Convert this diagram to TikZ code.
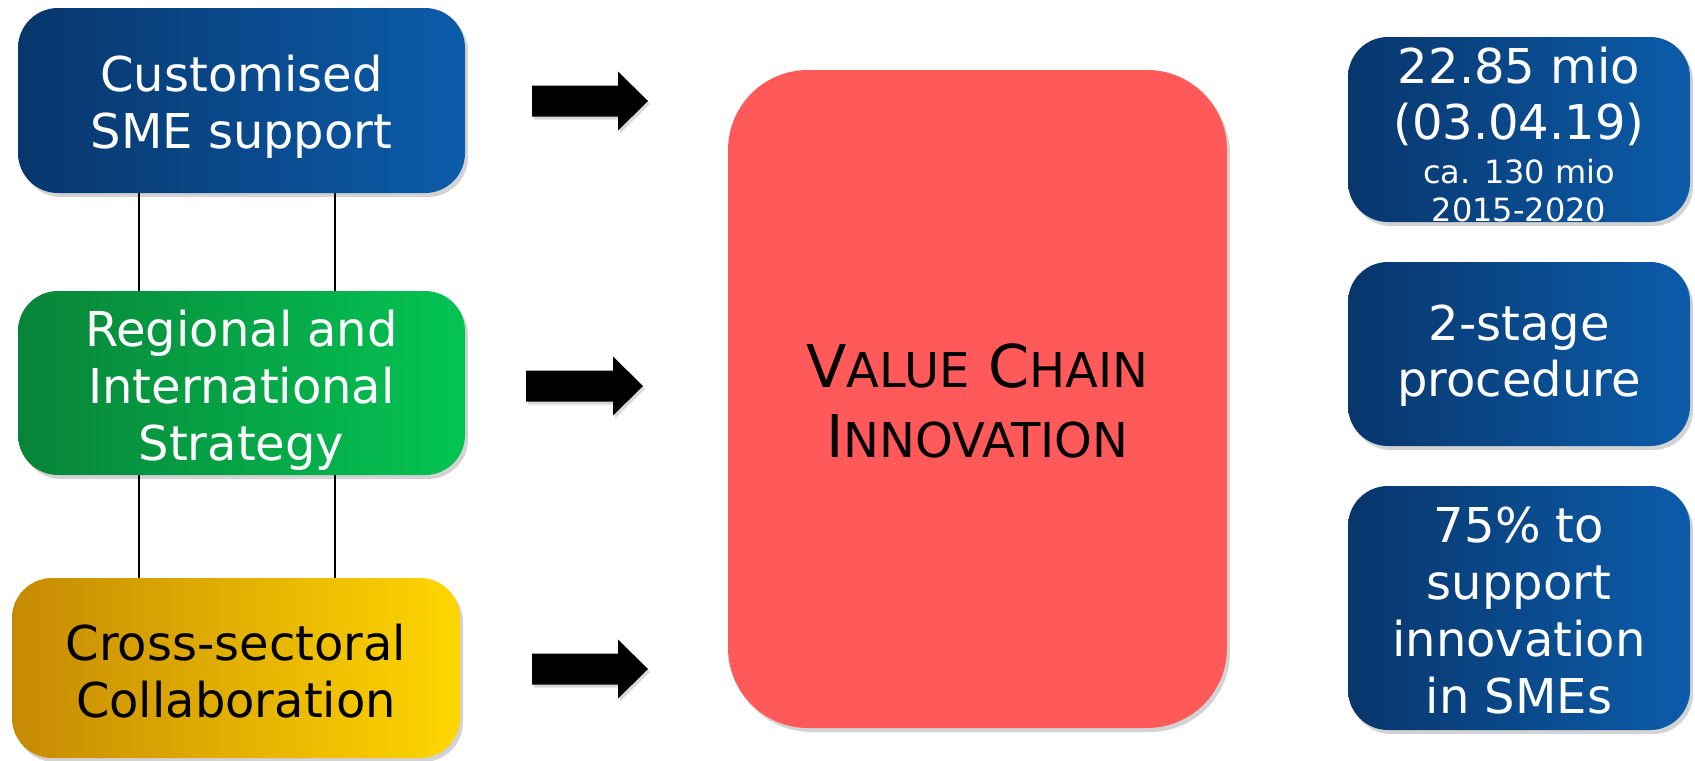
\documentclass[tikz,border=0pt]{standalone}
\usepackage{fontspec}
\setmainfont{DejaVu Sans}
\usetikzlibrary{shadows}
\definecolor{navyL}{RGB}{8,54,108}
\definecolor{navyR}{RGB}{12,92,170}
\definecolor{grnL}{RGB}{8,132,56}
\definecolor{grnR}{RGB}{4,196,84}
\definecolor{ylwL}{RGB}{198,138,4}
\definecolor{ylwR}{RGB}{255,214,0}
\definecolor{vcred}{RGB}{255,89,89}
\begin{document}
\begin{tikzpicture}[x=0.5pt,y=-0.5pt,
  box/.style={rounded corners=20pt,inner sep=0pt,
    drop shadow={opacity=0.35,shadow xshift=1.5pt,shadow yshift=-2pt}},
  bluebox/.style={box,left color=navyL,right color=navyR},
  sidebox/.style={bluebox,minimum width=171pt},
  tx/.style={inner sep=0pt,align=center,text=white,font=\fontsize{24}{28.5}\selectfont}]
\useasboundingbox (0,0) rectangle (1695,760);

% left column
\node[bluebox,minimum width=223.5pt,minimum height=92.5pt] (sme) at (241.5,100.5) {};
\node[tx] (sme-t) at ([yshift=-3pt]sme.center) {Customised\\SME support};
\node[box,left color=grnL,right color=grnR,minimum width=223.5pt,minimum height=92pt] (strat) at (241.5,383) {};
\node[tx] (strat-t) at ([yshift=-3.5pt]strat.center) {Regional and\\International\\Strategy};
\node[box,left color=ylwL,right color=ylwR,minimum width=224pt,minimum height=90pt] (collab) at (236,668) {};
\node[tx,text=black] (collab-t) at ([yshift=-1.5pt]collab.center) {Cross-sectoral\\Collaboration};
\foreach \dx in {-51.25pt,46.75pt}{
  \draw[line width=0.7pt] ([xshift=\dx]sme.south) -- ([xshift=\dx]sme.south |- strat.north);
  \draw[line width=0.7pt] ([xshift=\dx]strat.south) -- ([xshift=\dx]strat.south |- collab.north);
}

% block arrows
\foreach \l/\r/\c in {532/648/101,526/643/386,532/648/669}
  \fill[black,drop shadow={opacity=0.3,shadow xshift=1pt,shadow yshift=-1.5pt}]
    (\l,{\c-15.5}) -- ({\r-30},{\c-15.5}) -- ({\r-30},{\c-29.5}) -- (\r,\c)
    -- ({\r-30},{\c+29.5}) -- ({\r-30},{\c+15.5}) -- (\l,{\c+15.5}) -- cycle;

% centre
\node[box,rounded corners=40pt,fill=vcred,minimum width=249.5pt,minimum height=329pt] (vci) at (977.5,399) {};
\node[tx,text=black,font=\fontsize{29.5}{35}\selectfont] (vci-t) at ([yshift=-1pt]vci.center)
  {V{\fontsize{24}{35}\selectfont ALUE} C{\fontsize{24}{35}\selectfont HAIN}\\I{\fontsize{24}{35}\selectfont NNOVATION}};

% right column
\node[sidebox,minimum height=92.5pt] (fund) at (1519,129.5) {};
\node[tx,font=\fontsize{24}{28}\selectfont] (fund-t) at ([yshift=-2.5pt]fund.center)
  {22.85 mio\\(03.04.19)\\[-6pt]{\fontsize{16}{28}\selectfont ca. 130 mio}\\[-9pt]{\fontsize{16}{28}\selectfont 2015-2020}};
\node[sidebox,minimum height=92pt] (proc) at (1519,354) {};
\node[tx,font=\fontsize{24}{28}\selectfont] (proc-t) at ([yshift=-1pt]proc.center) {2-stage\\procedure};
\node[sidebox,minimum height=122pt] (share) at (1519,608) {};
\node[tx] (share-t) at ([yshift=-1.5pt]share.center) {75\% to\\support\\innovation\\in SMEs};
\end{tikzpicture}
\end{document}
